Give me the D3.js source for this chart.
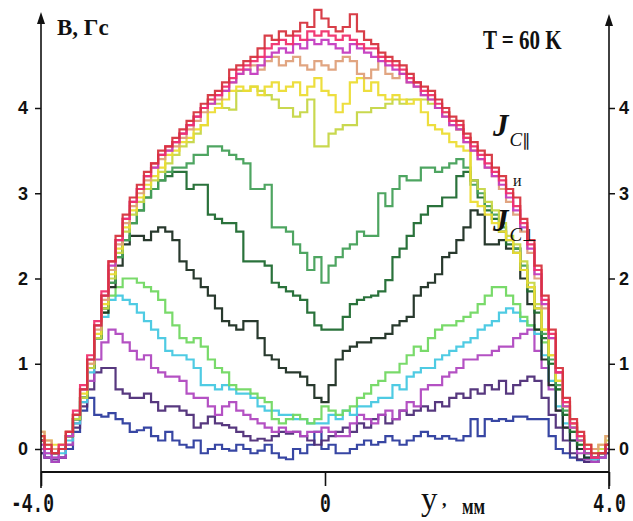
<!DOCTYPE html>
<html><head><meta charset="utf-8">
<script src="https://cdn.jsdelivr.net/npm/d3@7"></script>
<style>body{margin:0;background:#fff}</style>
</head><body><svg id="c" width="633" height="521"></svg>
<script>
// ---- data ----
const xs = [-4.0,-3.9,-3.8,-3.7,-3.6,-3.5,-3.4,-3.3,-3.2,-3.1,-3.0,-2.9,-2.8,-2.7,-2.6,-2.5,-2.4,-2.3,-2.2,-2.1,-2.0,-1.9,-1.8,-1.7,-1.6,-1.5,-1.4,-1.3,-1.2,-1.1,-1.0,-0.9,-0.8,-0.7,-0.6,-0.5,-0.4,-0.3,-0.2,-0.1,0.0,0.1,0.2,0.3,0.4,0.5,0.6,0.7,0.8,0.9,1.0,1.1,1.2,1.3,1.4,1.5,1.6,1.7,1.8,1.9,2.0,2.1,2.2,2.3,2.4,2.5,2.6,2.7,2.8,2.9,3.0,3.1,3.2,3.3,3.4,3.5,3.6,3.7,3.8,3.9,4.0];
const xTickValues = [-4, 0, 4];
const xTickLabels = ["-4.0", "0", "4.0"];
const yTickValues = [0, 1, 2, 3, 4];

const sNavy = [-0.05,-0.1,-0.15,-0.1,0.0,0.2,0.45,0.6,0.4,0.38,
 0.42,0.35,0.3,0.2,0.22,0.25,0.15,0.1,0.2,0.1,
 0.05,0.02,0.1,-0.05,0.0,0.05,0.0,-0.02,0.05,0.0,
 -0.05,-0.02,0.05,-0.05,-0.1,-0.12,0.0,-0.05,0.05,0.2,
 0.0,0.05,-0.05,-0.05,0.0,0.05,0.1,0.05,0.08,0.15,
 0.1,0.05,0.1,0.15,0.2,0.15,0.12,0.15,0.12,0.1,
 0.15,0.35,0.15,0.35,0.33,0.35,0.33,0.38,0.38,0.35,
 0.35,0.35,0.15,0.0,-0.05,-0.1,-0.13,-0.15,-0.15,-0.1,-0.05];
const sDarkPurple = [-0.05,-0.1,-0.12,-0.1,0.05,0.25,0.5,0.7,0.9,0.95,
 0.95,0.7,0.65,0.6,0.6,0.65,0.55,0.45,0.5,0.5,
 0.45,0.4,0.25,0.3,0.38,0.3,0.28,0.25,0.2,0.15,
 0.1,0.12,0.1,0.15,0.2,0.18,0.2,0.15,0.1,0.05,
 0.1,0.15,0.2,0.25,0.2,0.3,0.25,0.35,0.4,0.3,
 0.35,0.45,0.4,0.45,0.5,0.45,0.55,0.5,0.6,0.65,
 0.6,0.7,0.65,0.75,0.7,0.8,0.65,0.75,0.8,0.85,
 0.8,0.6,0.4,0.25,0.1,-0.05,-0.12,-0.15,-0.15,-0.1,-0.05];
const sPurple = [0.0,-0.1,-0.15,-0.1,0.05,0.3,0.55,0.8,1.05,1.25,
 1.4,1.35,1.25,1.15,1.05,1.1,0.95,0.9,0.85,0.85,
 0.8,0.65,0.6,0.6,0.5,0.4,0.5,0.55,0.45,0.4,
 0.35,0.3,0.25,0.2,0.25,0.2,0.2,0.15,0.2,0.2,
 0.25,0.2,0.15,0.15,0.3,0.4,0.35,0.3,0.4,0.45,
 0.35,0.45,0.55,0.5,0.7,0.75,0.75,0.85,0.9,0.95,
 1.05,1.05,1.1,1.1,1.15,1.2,1.2,1.3,1.35,1.4,
 1.15,0.95,0.7,0.45,0.25,0.1,-0.05,-0.12,-0.15,-0.1,0.0];
const sCyan = [0.05,-0.05,-0.1,-0.05,0.1,0.3,0.55,0.9,1.3,1.55,
 1.75,1.8,1.75,1.7,1.6,1.5,1.4,1.3,1.15,1.1,
 1.1,1.05,0.95,0.75,0.75,0.7,0.75,0.7,0.65,0.65,
 0.6,0.5,0.45,0.45,0.4,0.4,0.35,0.35,0.3,0.3,
 0.3,0.4,0.35,0.45,0.4,0.5,0.5,0.55,0.6,0.6,
 0.75,0.7,0.85,0.9,0.95,0.95,1.05,1.1,1.15,1.2,
 1.25,1.3,1.4,1.45,1.5,1.6,1.65,1.6,1.5,1.45,
 1.35,1.1,0.8,0.5,0.3,0.1,0.0,-0.1,-0.12,-0.1,0.0];
const sLightGreen = [0.1,0.0,-0.05,0.0,0.15,0.35,0.6,0.95,1.3,1.6,
 1.8,1.9,2.0,2.0,1.95,1.9,1.85,1.75,1.6,1.45,
 1.3,1.25,1.3,1.2,1.05,0.95,0.9,0.75,0.7,0.7,
 0.65,0.6,0.55,0.35,0.3,0.35,0.4,0.35,0.3,0.35,
 0.5,0.45,0.4,0.45,0.5,0.6,0.65,0.75,0.8,0.9,
 0.9,1.0,1.1,1.2,1.15,1.3,1.4,1.45,1.45,1.5,
 1.55,1.6,1.7,1.8,1.9,1.9,1.8,1.7,1.55,1.45,
 1.4,1.25,1.0,0.7,0.4,0.2,0.05,-0.05,-0.1,-0.05,0.05];
const sBlack = [0.1,0.0,-0.05,0.0,0.15,0.35,0.6,0.95,1.3,1.6,
 1.9,2.15,2.4,2.5,2.5,2.45,2.55,2.6,2.55,2.45,
 2.2,2.1,2.0,1.9,1.8,1.65,1.5,1.45,1.4,1.5,
 1.5,1.3,1.1,1.05,0.95,0.9,0.9,0.85,0.75,0.6,
 0.55,0.75,1.05,1.15,1.2,1.25,1.25,1.3,1.3,1.35,
 1.45,1.5,1.55,1.8,1.9,1.95,2.05,2.25,2.3,2.45,
 2.6,2.8,2.75,2.4,2.4,2.45,2.35,2.35,2.0,1.7,
 1.4,1.05,0.75,0.45,0.25,0.1,0.0,-0.1,-0.1,-0.05,0.05];
const sDarkGreen = [0.1,0.0,-0.05,0.0,0.15,0.35,0.6,0.95,1.3,1.65,
 1.95,2.25,2.45,2.65,2.8,2.95,3.05,3.15,3.2,3.25,
 3.25,3.05,3.1,3.1,2.75,2.7,2.65,2.65,2.55,2.2,
 2.2,2.2,2.15,1.95,1.9,1.85,1.8,1.75,1.6,1.45,
 1.4,1.4,1.4,1.55,1.7,1.75,1.78,1.8,1.85,1.98,
 2.25,2.35,2.5,2.65,2.75,2.85,2.85,2.95,2.95,3.2,
 3.25,3.15,2.95,2.8,2.7,2.55,2.4,2.3,2.1,1.85,
 1.6,1.3,1.0,0.7,0.4,0.2,0.05,-0.05,-0.1,-0.05,0.05];
const sGreen = [0.1,0.0,-0.05,0.0,0.15,0.35,0.6,0.95,1.3,1.65,
 1.95,2.25,2.45,2.65,2.8,2.95,3.05,3.15,3.25,3.3,
 3.3,3.35,3.45,3.45,3.55,3.55,3.5,3.45,3.4,3.35,
 3.05,3.05,3.1,2.6,2.6,2.55,2.4,2.3,2.1,2.25,
 1.95,2.15,2.25,2.35,2.4,2.55,2.5,2.5,3.0,2.85,
 3.05,3.2,3.15,3.15,3.3,3.3,3.25,3.3,3.35,3.4,
 3.3,3.1,3.0,2.85,2.75,2.6,2.45,2.35,2.15,1.9,
 1.65,1.35,1.05,0.75,0.45,0.25,0.1,-0.05,-0.1,-0.05,0.05];
const sYellowGreen = [0.15,0.05,0.0,0.05,0.15,0.35,0.6,0.95,1.3,1.65,
 2.0,2.3,2.55,2.75,2.9,3.05,3.15,3.25,3.35,3.45,
 3.55,3.6,3.7,3.8,4.1,4.05,4.0,3.98,4.2,4.2,
 4.25,4.2,4.15,4.1,4.0,4.0,3.9,3.95,4.1,3.55,
 3.55,3.7,3.75,3.8,3.8,3.95,3.95,4.0,4.0,4.05,
 4.1,4.05,4.1,4.1,4.1,4.05,4.0,3.95,3.85,3.75,
 3.65,3.15,3.05,2.9,2.8,2.65,2.5,2.4,2.2,1.95,
 1.7,1.4,1.1,0.8,0.5,0.25,0.1,0.0,-0.05,0.0,0.1];
const sYellow = [0.2,0.1,0.05,0.05,0.2,0.4,0.65,1.0,1.35,1.7,
 2.05,2.35,2.6,2.8,2.95,3.1,3.2,3.3,3.45,3.5,
 3.6,3.65,3.75,3.8,3.95,4.0,4.1,4.2,4.25,4.2,
 4.25,4.15,4.25,4.3,4.2,4.25,4.3,4.15,4.25,4.35,
 4.2,4.15,3.95,4.05,4.3,4.35,4.2,4.3,4.15,4.1,
 4.15,4.1,4.05,4.1,3.95,3.8,3.75,3.7,3.6,3.55,
 3.5,2.9,2.85,2.75,2.65,2.55,2.45,2.3,2.1,1.9,
 1.65,1.4,1.1,0.8,0.5,0.3,0.15,0.05,0.0,0.05,0.15];
const sTan = [0.2,0.1,0.0,0.05,0.2,0.4,0.7,1.0,1.4,1.75,
 2.1,2.4,2.65,2.85,3.0,3.15,3.3,3.4,3.5,3.55,
 3.65,3.75,3.85,3.95,4.05,4.1,4.2,4.3,4.4,4.45,
 4.5,4.45,4.55,4.6,4.5,4.55,4.6,4.5,4.45,4.55,
 4.5,4.45,4.55,4.6,4.55,4.4,4.35,4.45,4.6,4.4,
 4.35,4.4,4.3,4.25,4.15,4.1,4.0,3.9,3.8,3.75,
 3.6,3.5,3.4,3.3,3.2,3.05,2.9,2.75,2.55,2.3,
 2.0,1.65,1.3,0.9,0.55,0.3,0.15,0.05,0.0,0.05,0.15];
const sMagenta = [0.05,-0.05,-0.1,0.0,0.15,0.4,0.7,1.05,1.45,1.8,
 2.15,2.45,2.7,2.9,3.05,3.2,3.3,3.45,3.5,3.6,
 3.7,3.8,3.9,4.0,4.05,4.15,4.2,4.3,4.4,4.45,
 4.4,4.5,4.6,4.65,4.7,4.65,4.75,4.7,4.8,4.75,
 4.8,4.75,4.7,4.65,4.75,4.7,4.65,4.6,4.55,4.5,
 4.45,4.4,4.3,4.25,4.15,4.1,4.0,3.9,3.8,3.75,
 3.6,3.5,3.4,3.3,3.2,3.1,2.95,2.8,2.6,2.35,
 2.05,1.7,1.3,0.9,0.5,0.25,0.1,-0.05,-0.1,-0.1,0.0];
const sPink = [0.1,0.0,-0.05,0.05,0.2,0.45,0.75,1.1,1.5,1.85,
 2.2,2.45,2.7,2.9,3.05,3.2,3.35,3.45,3.55,3.6,
 3.7,3.8,3.9,4.0,4.1,4.15,4.25,4.35,4.45,4.5,
 4.55,4.6,4.7,4.75,4.8,4.75,4.85,4.8,4.9,4.85,
 4.9,4.85,4.8,4.85,4.8,4.75,4.7,4.7,4.6,4.55,
 4.5,4.45,4.35,4.3,4.2,4.15,4.05,3.95,3.85,3.8,
 3.65,3.55,3.45,3.35,3.25,3.15,3.0,2.85,2.65,2.4,
 2.1,1.75,1.35,0.9,0.55,0.3,0.15,0.0,-0.1,-0.05,0.05];
const sRed = [0.15,0.05,-0.05,0.0,0.2,0.4,0.7,1.05,1.45,1.8,
 2.2,2.5,2.75,2.95,3.1,3.25,3.35,3.5,3.55,3.65,
 3.75,3.85,3.95,4.05,4.15,4.2,4.3,4.45,4.5,4.55,
 4.6,4.7,4.85,4.8,4.9,4.85,4.9,5.0,4.95,5.15,
 5.05,4.95,4.9,4.95,5.1,4.9,4.8,4.75,4.65,4.6,
 4.55,4.5,4.4,4.3,4.25,4.2,4.1,4.0,3.9,3.85,
 3.7,3.6,3.5,3.45,3.3,3.2,3.05,2.95,2.7,2.45,
 2.15,1.8,1.4,0.95,0.6,0.35,0.2,0.05,-0.05,-0.05,0.05];

const series = [sNavy, sDarkPurple, sPurple, sCyan, sLightGreen, sBlack, sDarkGreen, sGreen, sYellowGreen, sYellow, sTan, sMagenta, sPink, sRed];
const colors = ["#2c3c9e", "#4e2d78", "#b048c0", "#46c8e2", "#72d862", "#1c2e22", "#1f6a30", "#45a058", "#c6d646", "#ecdc34", "#dfa07a", "#c43cc0", "#f0306e", "#d6343e"];

// ---- drawing ----
const svg = d3.select("#c");
const x = d3.scaleLinear().domain([-4, 4]).range([41, 609]);
const y = d3.scaleLinear().domain([0, 4]).range([449, 108]);

const line = d3.line().x((d, i) => x(xs[i])).y(d => y(d)).curve(d3.curveStep);
svg.append("g").selectAll("path").data(series).join("path")
  .attr("d", line).attr("fill", "none")
  .attr("stroke", (d, i) => colors[i]).attr("stroke-width", 2.2)
  .attr("stroke-linejoin", "miter").attr("opacity", 0.95);

const ink = "#111";
// axes lines
svg.append("line").attr("x1", 41).attr("x2", 41).attr("y1", 488).attr("y2", 20).attr("stroke", ink).attr("stroke-width", 1.6);
svg.append("line").attr("x1", 609).attr("x2", 609).attr("y1", 489).attr("y2", 22).attr("stroke", ink).attr("stroke-width", 1.6);
svg.append("line").attr("x1", 41).attr("x2", 609).attr("y1", 472).attr("y2", 472).attr("stroke", ink).attr("stroke-width", 1.8);
svg.append("path").attr("d", "M41,12 L37,24 L45,24 Z").attr("fill", ink);
svg.append("path").attr("d", "M609,14 L605,26 L613,26 Z").attr("fill", ink);

const tickFont = "'Liberation Sans', Arial, sans-serif";
const gl = svg.append("g").attr("transform", "translate(41,0)")
  .call(d3.axisLeft(y).tickValues(yTickValues).tickSize(6).tickPadding(7).tickFormat(d3.format("d")));
const gr = svg.append("g").attr("transform", "translate(609,0)")
  .call(d3.axisRight(y).tickValues(yTickValues).tickSize(6).tickPadding(4).tickFormat(d3.format("d")));
[gl, gr].forEach(g => {
  g.select(".domain").remove();
  g.selectAll("line").attr("stroke", ink).attr("stroke-width", 1.5);
  g.selectAll("text").attr("font-family", tickFont).attr("font-weight", "bold").attr("font-size", 18).attr("fill", ink);
});

const gb = svg.append("g").attr("transform", "translate(0,472)")
  .call(d3.axisBottom(x).tickValues(xTickValues).tickSize(14).tickFormat((d, i) => xTickLabels[i]));
gb.select(".domain").remove();
gb.selectAll("line").attr("stroke", ink).attr("stroke-width", 1.6);
gb.selectAll(".tick text").attr("font-family", "'Liberation Mono', 'DejaVu Sans Mono', monospace")
  .attr("font-weight", "bold").attr("font-size", 18).attr("fill", ink)
  .attr("y", 0).attr("dy", 0)
  .attr("transform", "translate(0,40) scale(1,1.5)");
gb.selectAll(".tick").filter(d => d === -4).select("text").attr("transform", "translate(-9,40) scale(1,1.5)");

const serif = "'Liberation Serif', 'Times New Roman', serif";
svg.append("text").attr("x", 57).attr("y", 35).attr("font-family", serif).attr("font-weight", "bold")
  .attr("font-size", 23).attr("fill", ink).text("B, Гс");
svg.append("text").attr("transform", "translate(483,49) scale(1,1.3)").attr("font-family", serif)
  .attr("font-weight", "bold").attr("font-size", 21).attr("fill", ink).text("T = 60 K");

function jLabel(px, py, sub) {
  const t = svg.append("text").attr("x", px).attr("y", py).attr("font-family", serif).attr("fill", ink);
  t.append("tspan").attr("font-style", "italic").attr("font-weight", "bold").attr("font-size", 31).text("J");
  t.append("tspan").attr("font-style", "italic").attr("font-size", 19).attr("dy", 10).attr("dx", 1).text("C");
  t.append("tspan").attr("font-size", 17).text(sub);
}
jLabel(493, 136, "\u2225");
jLabel(493, 231, "\u22A5");
svg.append("text").attr("x", 513).attr("y", 186).attr("font-family", serif).attr("font-size", 16).attr("fill", ink).text("и");

// x axis title
svg.append("text").attr("x", 421).attr("y", 510).attr("font-family", serif).attr("font-size", 33).attr("fill", ink).text("y");
svg.append("text").attr("x", 442).attr("y", 506).attr("font-family", serif).attr("font-weight", "bold").attr("font-size", 18).attr("fill", ink).text(",");
svg.append("text").attr("transform", "translate(462,514) scale(1,1.3)").attr("font-family", serif)
  .attr("font-weight", "bold").attr("font-size", 17).attr("fill", ink).text("мм");
</script></body></html>
